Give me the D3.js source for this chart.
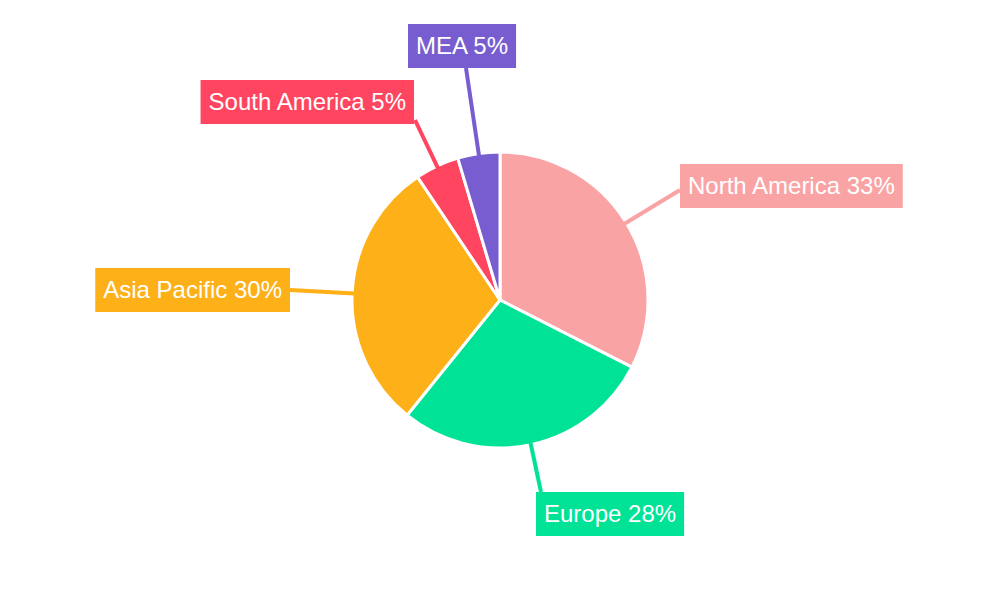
<!DOCTYPE html>
<html><head><meta charset="utf-8">
<script src="https://cdn.jsdelivr.net/npm/d3@7"></script>
<style>body{margin:0;background:#fff}</style></head>
<body><svg id="c" width="1000" height="600"></svg>
<script>
const categories = ["North America","Europe","Asia Pacific","South America","MEA"];
const values = [32.5, 28.3, 29.8, 4.8, 4.6];
const colors = ["#f9a3a4","#00e396","#feb019","#ff4560","#775dd0"];
// label layout: line end point and box anchor side
const labelLayout = [
  {ex:680, ey:190, bx:680, by:164, anchor:"start"},
  {ex:541, ey:492, bx:536, by:492, anchor:"start"},
  {ex:290, ey:290, bx:290, by:268, anchor:"end"},
  {ex:415, ey:120, bx:414, by:80, anchor:"end"},
  {ex:466, ey:68, bx:408, by:24, anchor:"start"}
];
const svg = d3.select("#c");
const cx=500, cy=300, r=148;
const pie = d3.pie().sort(null).value(d=>d)(values);
const arc = d3.arc().innerRadius(0).outerRadius(r);
const g = svg.append("g").attr("transform",`translate(${cx},${cy})`);
const lines = svg.append("g");
g.selectAll("path").data(pie).enter().append("path")
  .attr("d",arc).attr("fill",(d,i)=>colors[i]).attr("stroke","#fff").attr("stroke-width",3);
const labels = svg.append("g");
pie.forEach((d,i)=>{
  const a=(d.startAngle+d.endAngle)/2;
  const sx=cx+Math.sin(a)*(r-2), sy=cy-Math.cos(a)*(r-2);
  const L=labelLayout[i];
  lines.append("line").attr("x1",sx).attr("y1",sy).attr("x2",L.ex).attr("y2",L.ey)
    .attr("stroke",colors[i]).attr("stroke-width",4);
  const txt = categories[i]+" "+Math.round(d.data)+"%";
  const lg = labels.append("g");
  const t = lg.append("text").text(txt).attr("font-family","Liberation Sans, Arial, sans-serif")
    .attr("font-size",24).attr("fill","#fff");
  const w = t.node().getComputedTextLength()+16;
  const x0 = L.anchor==="start"? L.bx : L.bx-w;
  lg.insert("rect","text").attr("x",x0).attr("y",L.by).attr("width",w).attr("height",44).attr("fill",colors[i]);
  t.attr("x",x0+8).attr("y",L.by+30);
});
</script></body></html>
